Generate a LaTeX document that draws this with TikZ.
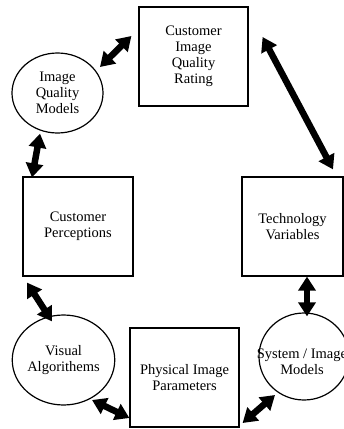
\documentclass[tikz,border=0pt]{standalone}
\usepackage{fontspec}
\setmainfont{Liberation Serif}
\usetikzlibrary{shapes.geometric,arrows.meta}
\begin{document}
\begin{tikzpicture}[x=1pt,y=-1pt,
  txt/.style={font=\fontsize{14.5}{16}\selectfont, align=center, inner sep=0pt},
  boxnode/.style={txt, draw, line width=1.2pt, rectangle, minimum width=109pt, minimum height=99pt},
  ovalnode/.style={txt, draw, line width=1.2pt, ellipse},
  dbl/.style={line width=6.5pt, {Triangle[length=14pt,width=17pt]}-{Triangle[length=14pt,width=17pt]}}
]
\useasboundingbox (0,0) rectangle (344,429);
\clip (0,0) rectangle (344,429);

\node[boxnode] (ciqr) at (193.5,56.5) {Customer\\Image\\Quality\\Rating};
\node[ovalnode, minimum width=91pt, minimum height=80pt] (iqm) at (57.5,93) {Image\\Quality\\Models};
\node[boxnode, minimum width=110pt] (cp) at (78,226.5) {Customer\\Perceptions};
\node[boxnode, minimum width=101pt] (tv) at (292.5,226.5) {Technology\\Variables};
\node[ovalnode, minimum width=93pt, minimum height=90pt] (va) at (63.5,360) {Visual\\Algorithems};
\node[boxnode] (pip) at (184.5,377.5) {Physical Image\\Parameters};
\node[ovalnode, minimum width=90pt, minimum height=87pt] (sim) at (304,356.5) {};
\node[txt] (simtext) at (302,362) {System / Image\\Models};

\draw[dbl] ([shift={(42.5,-26)}]iqm.center) -- ([shift={(-7,-20.5)}]ciqr.west);
\draw[dbl] ([shift={(14,-19.5)}]ciqr.east) -- ([shift={(40.5,-7)}]tv.north);
\draw[dbl] ([shift={(-17.5,0)}]iqm.south) -- ([shift={(-46,1)}]cp.north);
\draw[dbl] ([shift={(-51,6)}]cp.south) -- ([shift={(-11.5,7)}]va.north);
\draw[dbl] ([shift={(28.5,40)}]va.center) -- ([shift={(0,40.5)}]pip.west);
\draw[dbl] ([shift={(3,45.5)}]pip.east) -- ([shift={(-29,38.5)}]sim.center);
\draw[dbl] ([shift={(14.5,0)}]tv.south) -- ([shift={(3,4)}]sim.north);
\end{tikzpicture}
\end{document}
